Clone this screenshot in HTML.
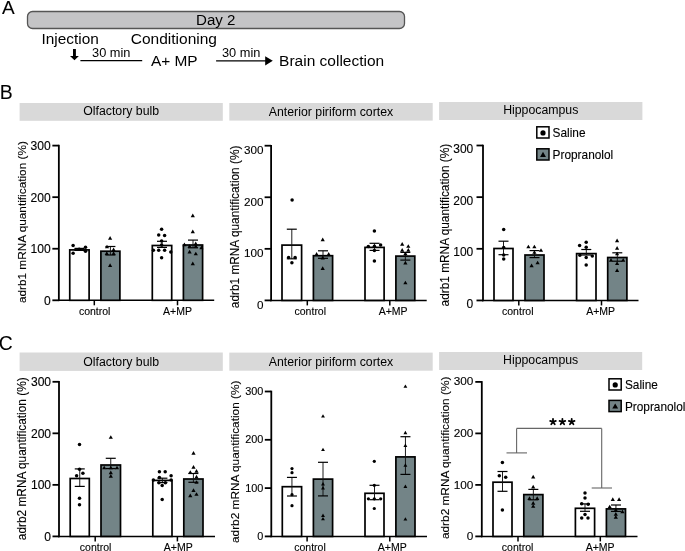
<!DOCTYPE html>
<html><head><meta charset="utf-8"><style>
html,body{margin:0;padding:0;background:#fff;width:685px;height:551px;overflow:hidden}
svg{display:block;will-change:transform}
text{font-family:"Liberation Sans", sans-serif;fill:#000;stroke:#000;stroke-width:0.12px}
</style></head><body>
<svg width="685" height="551" viewBox="0 0 685 551">
<text x="2.1" y="13.6" font-size="19" text-anchor="start" style="stroke-width:0.1">A</text>
<rect x="27.5" y="11.5" width="377" height="17" fill="#c4c4c6" stroke="#555" stroke-width="1.3" rx="5"/>
<text x="215.8" y="24.7" font-size="15.1" text-anchor="middle" style="stroke-width:0">Day 2</text>
<text x="41.5" y="44.1" font-size="15.4" text-anchor="start" style="stroke-width:0">Injection</text>
<text x="130.8" y="44.3" font-size="15.5" text-anchor="start" style="stroke-width:0">Conditioning</text>
<path d="M73.0 49.0 L75.9 49.0 L75.9 55.9 L78.9 55.9 L74.45 60.3 L70.0 55.9 L73.0 55.9 Z" fill="#000"/>
<line x1="80.4" y1="60.6" x2="142.2" y2="60.6" stroke="#000" stroke-width="1.2"/>
<text x="111.3" y="57.3" font-size="12.8" text-anchor="middle" style="stroke-width:0">30 min</text>
<text x="150.9" y="66.1" font-size="15.45" text-anchor="start" style="stroke-width:0">A+ MP</text>
<line x1="216.1" y1="60.8" x2="266" y2="60.8" stroke="#000" stroke-width="1.3"/>
<path d="M265.2 56.2 L272.8 60.8 L265.2 65.4 Z" fill="#000"/>
<text x="241.2" y="57.3" font-size="12.8" text-anchor="middle" style="stroke-width:0">30 min</text>
<text x="279.1" y="65.8" font-size="15.5" text-anchor="start" style="stroke-width:0">Brain collection</text>
<rect x="19.6" y="103" width="203.20000000000002" height="17.799999999999997" fill="#d9d9d9" stroke="none" stroke-width="0" rx="0"/>
<text x="121.2" y="115.2" font-size="12.3" text-anchor="middle" style="stroke-width:0">Olfactory bulb</text>
<rect x="229.3" y="103" width="203.39999999999998" height="17.599999999999994" fill="#d9d9d9" stroke="none" stroke-width="0" rx="0"/>
<text x="331.0" y="115.9" font-size="12.3" text-anchor="middle" style="stroke-width:0">Anterior piriform cortex</text>
<rect x="439.1" y="102" width="203.29999999999995" height="18" fill="#d9d9d9" stroke="none" stroke-width="0" rx="0"/>
<text x="540.75" y="114.1" font-size="12.3" text-anchor="middle" style="stroke-width:0">Hippocampus</text>
<rect x="19.6" y="352.5" width="203.20000000000002" height="18.399999999999977" fill="#d9d9d9" stroke="none" stroke-width="0" rx="0"/>
<text x="121.2" y="365.7" font-size="12.3" text-anchor="middle" style="stroke-width:0">Olfactory bulb</text>
<rect x="229.3" y="352.6" width="203.39999999999998" height="18.099999999999966" fill="#d9d9d9" stroke="none" stroke-width="0" rx="0"/>
<text x="331.0" y="366.1" font-size="12.3" text-anchor="middle" style="stroke-width:0">Anterior piriform cortex</text>
<rect x="439.1" y="352" width="203.10000000000002" height="18" fill="#d9d9d9" stroke="none" stroke-width="0" rx="0"/>
<text x="540.6500000000001" y="363.9" font-size="12.3" text-anchor="middle" style="stroke-width:0">Hippocampus</text>
<text x="-0.3" y="98.8" font-size="19.4" text-anchor="start" style="stroke-width:0.05">B</text>
<text x="-1.3" y="349.9" font-size="19.4" text-anchor="start" style="stroke-width:0">C</text>
<line x1="58.85" y1="144.79999999999998" x2="58.85" y2="301.1" stroke="#000" stroke-width="1.8"/>
<line x1="57.95" y1="300.3" x2="214.2" y2="300.3" stroke="#000" stroke-width="1.55"/>
<line x1="52.35" y1="300.3" x2="58.85" y2="300.3" stroke="#000" stroke-width="1.8"/>
<text x="50.7" y="304.9" font-size="12.1" text-anchor="end">0</text>
<line x1="52.35" y1="248.73333333333335" x2="58.85" y2="248.73333333333335" stroke="#000" stroke-width="1.8"/>
<text x="50.7" y="252.9" font-size="12.1" text-anchor="end">100</text>
<line x1="52.35" y1="197.16666666666669" x2="58.85" y2="197.16666666666669" stroke="#000" stroke-width="1.8"/>
<text x="50.7" y="201.7" font-size="12.1" text-anchor="end">200</text>
<line x1="52.35" y1="145.6" x2="58.85" y2="145.6" stroke="#000" stroke-width="1.8"/>
<text x="50.7" y="149.7" font-size="12.1" text-anchor="end">300</text>
<text transform="translate(26.3,222.15) rotate(-90)" font-size="11.81" text-anchor="middle">adrb1 mRNA quantification (%)</text>
<rect x="69.75" y="249.9" width="19.349999999999994" height="50.400000000000006" fill="#fff" stroke="#000" stroke-width="1.7" rx="0"/>
<rect x="100.9" y="251.2" width="19.0" height="49.10000000000002" fill="#738487" stroke="#000" stroke-width="1.7" rx="0"/>
<rect x="152.3" y="245.5" width="19.399999999999977" height="54.80000000000001" fill="#fff" stroke="#000" stroke-width="1.7" rx="0"/>
<rect x="183.4" y="245.0" width="19.19999999999999" height="55.30000000000001" fill="#738487" stroke="#000" stroke-width="1.7" rx="0"/>
<line x1="79.425" y1="248.4" x2="79.425" y2="250.4" stroke="#111" stroke-width="0.95"/>
<line x1="74.425" y1="248.4" x2="84.425" y2="248.4" stroke="#000" stroke-width="1.2"/>
<line x1="74.425" y1="250.4" x2="84.425" y2="250.4" stroke="#000" stroke-width="1.2"/>
<circle cx="73.1" cy="245.4" r="1.75" fill="#000"/>
<circle cx="73.1" cy="253.2" r="1.75" fill="#000"/>
<circle cx="79.2" cy="249.3" r="1.75" fill="#000"/>
<circle cx="85.5" cy="247.3" r="1.75" fill="#000"/>
<circle cx="85.5" cy="251.3" r="1.75" fill="#000"/>
<line x1="110.4" y1="246.5" x2="110.4" y2="255.0" stroke="#111" stroke-width="0.95"/>
<line x1="105.4" y1="246.5" x2="115.4" y2="246.5" stroke="#000" stroke-width="1.2"/>
<line x1="105.4" y1="255.0" x2="115.4" y2="255.0" stroke="#000" stroke-width="1.2"/>
<path d="M108.00 239.73L112.20 239.73L110.10 236.07Z" fill="#000"/>
<path d="M104.90 248.33L109.10 248.33L107.00 244.67Z" fill="#000"/>
<path d="M111.50 251.13L115.70 251.13L113.60 247.47Z" fill="#000"/>
<path d="M104.70 255.03L108.90 255.03L106.80 251.37Z" fill="#000"/>
<path d="M111.50 255.03L115.70 255.03L113.60 251.37Z" fill="#000"/>
<path d="M108.00 266.93L112.20 266.93L110.10 263.27Z" fill="#000"/>
<line x1="162.0" y1="241.3" x2="162.0" y2="247.4" stroke="#111" stroke-width="0.95"/>
<line x1="157.0" y1="241.3" x2="167.0" y2="241.3" stroke="#000" stroke-width="1.2"/>
<line x1="157.0" y1="247.4" x2="167.0" y2="247.4" stroke="#000" stroke-width="1.2"/>
<circle cx="161.6" cy="245.0" r="1.75" fill="#000"/>
<circle cx="161.6" cy="229.2" r="1.75" fill="#000"/>
<circle cx="158.7" cy="235" r="1.75" fill="#000"/>
<circle cx="164.6" cy="235.5" r="1.75" fill="#000"/>
<circle cx="161.6" cy="241" r="1.75" fill="#000"/>
<circle cx="158.7" cy="250.3" r="1.75" fill="#000"/>
<circle cx="164.6" cy="250.3" r="1.75" fill="#000"/>
<circle cx="153.4" cy="250.3" r="1.75" fill="#000"/>
<circle cx="170.8" cy="251.9" r="1.75" fill="#000"/>
<circle cx="161.6" cy="257.8" r="1.75" fill="#000"/>
<line x1="193.0" y1="240.1" x2="193.0" y2="247.8" stroke="#111" stroke-width="0.95"/>
<line x1="188.0" y1="240.1" x2="198.0" y2="240.1" stroke="#000" stroke-width="1.2"/>
<line x1="188.0" y1="247.8" x2="198.0" y2="247.8" stroke="#000" stroke-width="1.2"/>
<path d="M199.30 249.13L203.50 249.13L201.40 245.47Z" fill="#000"/>
<path d="M193.60 245.23L197.80 245.23L195.70 241.57Z" fill="#000"/>
<path d="M190.70 217.13L194.90 217.13L192.80 213.47Z" fill="#000"/>
<path d="M190.70 233.13L194.90 233.13L192.80 229.47Z" fill="#000"/>
<path d="M190.70 265.23L194.90 265.23L192.80 261.57Z" fill="#000"/>
<path d="M187.50 253.53L191.70 253.53L189.60 249.87Z" fill="#000"/>
<path d="M193.70 255.33L197.90 255.33L195.80 251.67Z" fill="#000"/>
<path d="M187.50 247.83L191.70 247.83L189.60 244.17Z" fill="#000"/>
<path d="M193.70 247.83L197.90 247.83L195.80 244.17Z" fill="#000"/>
<path d="M182.30 246.13L186.50 246.13L184.40 242.47Z" fill="#000"/>
<line x1="94.3" y1="300.3" x2="94.3" y2="305.3" stroke="#000" stroke-width="1.5"/>
<text x="94.7" y="314.6" font-size="10.5" text-anchor="middle">control</text>
<line x1="177.5" y1="300.3" x2="177.5" y2="305.3" stroke="#000" stroke-width="1.5"/>
<text x="177.5" y="314.6" font-size="10.5" text-anchor="middle">A+MP</text>
<line x1="271.1" y1="144.89999999999998" x2="271.1" y2="301.2" stroke="#000" stroke-width="1.8"/>
<line x1="270.20000000000005" y1="300.4" x2="426.7" y2="300.4" stroke="#000" stroke-width="1.55"/>
<line x1="264.6" y1="300.4" x2="271.1" y2="300.4" stroke="#000" stroke-width="1.8"/>
<text x="263.4" y="309.3" font-size="11.7" text-anchor="end">0</text>
<line x1="264.6" y1="248.83333333333331" x2="271.1" y2="248.83333333333331" stroke="#000" stroke-width="1.8"/>
<text x="263.4" y="257.3" font-size="11.7" text-anchor="end">100</text>
<line x1="264.6" y1="197.26666666666665" x2="271.1" y2="197.26666666666665" stroke="#000" stroke-width="1.8"/>
<text x="263.4" y="205.9" font-size="11.7" text-anchor="end">200</text>
<line x1="264.6" y1="145.7" x2="271.1" y2="145.7" stroke="#000" stroke-width="1.8"/>
<text x="263.4" y="153.6" font-size="11.7" text-anchor="end">300</text>
<text transform="translate(238.8,226.90) rotate(-90)" font-size="11.85" text-anchor="middle">adrb1 mRNA quantification (%)</text>
<rect x="282.0" y="245.1" width="19.600000000000023" height="55.29999999999998" fill="#fff" stroke="#000" stroke-width="1.7" rx="0"/>
<rect x="313.4" y="255.7" width="19.200000000000045" height="44.69999999999999" fill="#738487" stroke="#000" stroke-width="1.7" rx="0"/>
<rect x="365.0" y="247.4" width="19.100000000000023" height="52.99999999999997" fill="#fff" stroke="#000" stroke-width="1.7" rx="0"/>
<rect x="395.9" y="256.1" width="18.900000000000034" height="44.299999999999955" fill="#738487" stroke="#000" stroke-width="1.7" rx="0"/>
<line x1="291.8" y1="229.2" x2="291.8" y2="258.8" stroke="#111" stroke-width="0.95"/>
<line x1="286.8" y1="229.2" x2="296.8" y2="229.2" stroke="#000" stroke-width="1.2"/>
<line x1="286.8" y1="258.8" x2="296.8" y2="258.8" stroke="#000" stroke-width="1.2"/>
<circle cx="292.1" cy="199.9" r="1.75" fill="#000"/>
<circle cx="288.6" cy="257.5" r="1.75" fill="#000"/>
<circle cx="295.1" cy="257.5" r="1.75" fill="#000"/>
<circle cx="291.9" cy="262.7" r="1.75" fill="#000"/>
<line x1="323.0" y1="250.8" x2="323.0" y2="258.3" stroke="#111" stroke-width="0.95"/>
<line x1="318.0" y1="250.8" x2="328.0" y2="250.8" stroke="#000" stroke-width="1.2"/>
<line x1="318.0" y1="258.3" x2="328.0" y2="258.3" stroke="#000" stroke-width="1.2"/>
<path d="M320.60 241.23L324.80 241.23L322.70 237.57Z" fill="#000"/>
<path d="M320.60 269.93L324.80 269.93L322.70 266.27Z" fill="#000"/>
<path d="M314.50 255.73L318.70 255.73L316.60 252.07Z" fill="#000"/>
<path d="M326.60 255.73L330.80 255.73L328.70 252.07Z" fill="#000"/>
<path d="M320.60 259.43L324.80 259.43L322.70 255.77Z" fill="#000"/>
<line x1="374.55" y1="243.3" x2="374.55" y2="250.4" stroke="#111" stroke-width="0.95"/>
<line x1="369.55" y1="243.3" x2="379.55" y2="243.3" stroke="#000" stroke-width="1.2"/>
<line x1="369.55" y1="250.4" x2="379.55" y2="250.4" stroke="#000" stroke-width="1.2"/>
<circle cx="374.4" cy="231.1" r="1.75" fill="#000"/>
<circle cx="374.4" cy="261.0" r="1.75" fill="#000"/>
<circle cx="368.3" cy="246.6" r="1.75" fill="#000"/>
<circle cx="374.4" cy="246.2" r="1.75" fill="#000"/>
<circle cx="380.6" cy="245.0" r="1.75" fill="#000"/>
<circle cx="374.4" cy="250.4" r="1.75" fill="#000"/>
<line x1="405.35" y1="252.4" x2="405.35" y2="260.1" stroke="#111" stroke-width="0.95"/>
<line x1="400.35" y1="252.4" x2="410.35" y2="252.4" stroke="#000" stroke-width="1.2"/>
<line x1="400.35" y1="260.1" x2="410.35" y2="260.1" stroke="#000" stroke-width="1.2"/>
<path d="M400.10 245.73L404.30 245.73L402.20 242.07Z" fill="#000"/>
<path d="M406.20 247.83L410.40 247.83L408.30 244.17Z" fill="#000"/>
<path d="M400.10 251.63L404.30 251.63L402.20 247.97Z" fill="#000"/>
<path d="M406.20 251.63L410.40 251.63L408.30 247.97Z" fill="#000"/>
<path d="M403.30 255.13L407.50 255.13L405.40 251.47Z" fill="#000"/>
<path d="M403.30 264.53L407.50 264.53L405.40 260.87Z" fill="#000"/>
<path d="M403.30 284.33L407.50 284.33L405.40 280.67Z" fill="#000"/>
<line x1="307.3" y1="300.4" x2="307.3" y2="305.4" stroke="#000" stroke-width="1.5"/>
<text x="310.3" y="314.6" font-size="10.5" text-anchor="middle">control</text>
<line x1="389.8" y1="300.4" x2="389.8" y2="305.4" stroke="#000" stroke-width="1.5"/>
<text x="393.1" y="314.6" font-size="10.5" text-anchor="middle">A+MP</text>
<line x1="483.0" y1="144.7" x2="483.0" y2="301.25" stroke="#000" stroke-width="1.8"/>
<line x1="482.1" y1="300.45" x2="638.5" y2="300.45" stroke="#000" stroke-width="1.55"/>
<line x1="476.5" y1="300.45" x2="483.0" y2="300.45" stroke="#000" stroke-width="1.8"/>
<text x="473.3" y="307.7" font-size="12.0" text-anchor="end">0</text>
<line x1="476.5" y1="248.79999999999998" x2="483.0" y2="248.79999999999998" stroke="#000" stroke-width="1.8"/>
<text x="473.3" y="255.9" font-size="12.0" text-anchor="end">100</text>
<line x1="476.5" y1="197.14999999999998" x2="483.0" y2="197.14999999999998" stroke="#000" stroke-width="1.8"/>
<text x="473.3" y="204.7" font-size="12.0" text-anchor="end">200</text>
<line x1="476.5" y1="145.5" x2="483.0" y2="145.5" stroke="#000" stroke-width="1.8"/>
<text x="473.3" y="152.7" font-size="12.0" text-anchor="end">300</text>
<text transform="translate(448.8,225.10) rotate(-90)" font-size="11.85" text-anchor="middle">adrb1 mRNA quantification (%)</text>
<rect x="494.0" y="248.5" width="19.0" height="51.94999999999999" fill="#fff" stroke="#000" stroke-width="1.7" rx="0"/>
<rect x="525.0" y="255.0" width="19.0" height="45.44999999999999" fill="#738487" stroke="#000" stroke-width="1.7" rx="0"/>
<rect x="576.6" y="253.6" width="19.399999999999977" height="46.849999999999994" fill="#fff" stroke="#000" stroke-width="1.7" rx="0"/>
<rect x="607.7" y="257.5" width="19.199999999999932" height="42.94999999999999" fill="#738487" stroke="#000" stroke-width="1.7" rx="0"/>
<line x1="503.5" y1="241.2" x2="503.5" y2="254.7" stroke="#111" stroke-width="0.95"/>
<line x1="498.5" y1="241.2" x2="508.5" y2="241.2" stroke="#000" stroke-width="1.2"/>
<line x1="498.5" y1="254.7" x2="508.5" y2="254.7" stroke="#000" stroke-width="1.2"/>
<circle cx="503.7" cy="229.4" r="1.75" fill="#000"/>
<circle cx="503.7" cy="247.6" r="1.75" fill="#000"/>
<circle cx="503.7" cy="255.0" r="1.75" fill="#000"/>
<circle cx="503.7" cy="259.0" r="1.75" fill="#000"/>
<line x1="534.5" y1="250.6" x2="534.5" y2="257.6" stroke="#111" stroke-width="0.95"/>
<line x1="529.5" y1="250.6" x2="539.5" y2="250.6" stroke="#000" stroke-width="1.2"/>
<line x1="529.5" y1="257.6" x2="539.5" y2="257.6" stroke="#000" stroke-width="1.2"/>
<path d="M526.30 248.33L530.50 248.33L528.40 244.67Z" fill="#000"/>
<path d="M532.30 248.33L536.50 248.33L534.40 244.67Z" fill="#000"/>
<path d="M538.90 251.83L543.10 251.83L541.00 248.17Z" fill="#000"/>
<path d="M532.30 253.83L536.50 253.83L534.40 250.17Z" fill="#000"/>
<path d="M529.50 267.13L533.70 267.13L531.60 263.47Z" fill="#000"/>
<path d="M535.50 264.33L539.70 264.33L537.60 260.67Z" fill="#000"/>
<line x1="586.3" y1="249.5" x2="586.3" y2="255.0" stroke="#111" stroke-width="0.95"/>
<line x1="581.3" y1="249.5" x2="591.3" y2="249.5" stroke="#000" stroke-width="1.2"/>
<line x1="581.3" y1="255.0" x2="591.3" y2="255.0" stroke="#000" stroke-width="1.2"/>
<circle cx="586.2" cy="242.3" r="1.75" fill="#000"/>
<circle cx="579.6" cy="245.6" r="1.75" fill="#000"/>
<circle cx="586.2" cy="247.3" r="1.75" fill="#000"/>
<circle cx="579.9" cy="255.2" r="1.75" fill="#000"/>
<circle cx="586.2" cy="257.4" r="1.75" fill="#000"/>
<circle cx="592.3" cy="256.1" r="1.75" fill="#000"/>
<circle cx="586.2" cy="265.1" r="1.75" fill="#000"/>
<line x1="617.3" y1="252.8" x2="617.3" y2="261.2" stroke="#111" stroke-width="0.95"/>
<line x1="612.3" y1="252.8" x2="622.3" y2="252.8" stroke="#000" stroke-width="1.2"/>
<line x1="612.3" y1="261.2" x2="622.3" y2="261.2" stroke="#000" stroke-width="1.2"/>
<path d="M615.00 242.13L619.20 242.13L617.10 238.47Z" fill="#000"/>
<path d="M615.00 249.63L619.20 249.63L617.10 245.97Z" fill="#000"/>
<path d="M615.00 255.33L619.20 255.33L617.10 251.67Z" fill="#000"/>
<path d="M608.90 261.63L613.10 261.63L611.00 257.97Z" fill="#000"/>
<path d="M621.10 261.63L625.30 261.63L623.20 257.97Z" fill="#000"/>
<path d="M615.00 264.93L619.20 264.93L617.10 261.27Z" fill="#000"/>
<path d="M615.00 271.93L619.20 271.93L617.10 268.27Z" fill="#000"/>
<line x1="518.8" y1="300.45" x2="518.8" y2="305.45" stroke="#000" stroke-width="1.5"/>
<text x="517.8" y="314.8" font-size="10.5" text-anchor="middle">control</text>
<line x1="601.5" y1="300.45" x2="601.5" y2="305.45" stroke="#000" stroke-width="1.5"/>
<text x="600.6" y="314.8" font-size="10.5" text-anchor="middle">A+MP</text>
<line x1="59.0" y1="381.0" x2="59.0" y2="537.1999999999999" stroke="#000" stroke-width="1.8"/>
<line x1="58.1" y1="536.4" x2="215.0" y2="536.4" stroke="#000" stroke-width="1.55"/>
<line x1="52.5" y1="536.4" x2="59.0" y2="536.4" stroke="#000" stroke-width="1.8"/>
<text x="51.1" y="541.1" font-size="12.1" text-anchor="end">0</text>
<line x1="52.5" y1="484.8666666666667" x2="59.0" y2="484.8666666666667" stroke="#000" stroke-width="1.8"/>
<text x="51.1" y="489.0" font-size="12.1" text-anchor="end">100</text>
<line x1="52.5" y1="433.33333333333337" x2="59.0" y2="433.33333333333337" stroke="#000" stroke-width="1.8"/>
<text x="51.1" y="437.9" font-size="12.1" text-anchor="end">200</text>
<line x1="52.5" y1="381.8" x2="59.0" y2="381.8" stroke="#000" stroke-width="1.8"/>
<text x="51.1" y="385.7" font-size="12.1" text-anchor="end">300</text>
<text transform="translate(26.4,458.75) rotate(-90)" font-size="11.86" text-anchor="middle">adrb2 mRNA quantification (%)</text>
<rect x="70.2" y="478.5" width="19.099999999999994" height="57.89999999999998" fill="#fff" stroke="#000" stroke-width="1.7" rx="0"/>
<rect x="101.0" y="465.0" width="19.5" height="71.39999999999998" fill="#738487" stroke="#000" stroke-width="1.7" rx="0"/>
<rect x="152.8" y="480.4" width="19.19999999999999" height="56.0" fill="#fff" stroke="#000" stroke-width="1.7" rx="0"/>
<rect x="183.8" y="479.0" width="19.19999999999999" height="57.39999999999998" fill="#738487" stroke="#000" stroke-width="1.7" rx="0"/>
<line x1="79.75" y1="468.9" x2="79.75" y2="486.4" stroke="#111" stroke-width="0.95"/>
<line x1="74.75" y1="468.9" x2="84.75" y2="468.9" stroke="#000" stroke-width="1.2"/>
<line x1="74.75" y1="486.4" x2="84.75" y2="486.4" stroke="#000" stroke-width="1.2"/>
<circle cx="79.5" cy="444.5" r="1.75" fill="#000"/>
<circle cx="79.5" cy="469.2" r="1.75" fill="#000"/>
<circle cx="76.6" cy="475.8" r="1.75" fill="#000"/>
<circle cx="82.9" cy="473.3" r="1.75" fill="#000"/>
<circle cx="79.5" cy="498.3" r="1.75" fill="#000"/>
<circle cx="79.5" cy="504.8" r="1.75" fill="#000"/>
<line x1="110.75" y1="458.3" x2="110.75" y2="468.6" stroke="#111" stroke-width="0.95"/>
<line x1="105.75" y1="458.3" x2="115.75" y2="458.3" stroke="#000" stroke-width="1.2"/>
<line x1="105.75" y1="468.6" x2="115.75" y2="468.6" stroke="#000" stroke-width="1.2"/>
<path d="M108.70 438.83L112.90 438.83L110.80 435.17Z" fill="#000"/>
<path d="M102.10 469.33L106.30 469.33L104.20 465.67Z" fill="#000"/>
<path d="M108.70 469.33L112.90 469.33L110.80 465.67Z" fill="#000"/>
<path d="M114.90 469.33L119.10 469.33L117.00 465.67Z" fill="#000"/>
<path d="M108.70 474.23L112.90 474.23L110.80 470.57Z" fill="#000"/>
<path d="M108.70 477.63L112.90 477.63L110.80 473.97Z" fill="#000"/>
<line x1="162.4" y1="478.2" x2="162.4" y2="482.6" stroke="#111" stroke-width="0.95"/>
<line x1="157.4" y1="478.2" x2="167.4" y2="478.2" stroke="#000" stroke-width="1.2"/>
<line x1="157.4" y1="482.6" x2="167.4" y2="482.6" stroke="#000" stroke-width="1.2"/>
<circle cx="159.4" cy="471.7" r="1.75" fill="#000"/>
<circle cx="165.2" cy="471.7" r="1.75" fill="#000"/>
<circle cx="171.1" cy="475.8" r="1.75" fill="#000"/>
<circle cx="159.4" cy="477.5" r="1.75" fill="#000"/>
<circle cx="153.4" cy="480.1" r="1.75" fill="#000"/>
<circle cx="171.1" cy="479.9" r="1.75" fill="#000"/>
<circle cx="158.9" cy="482.8" r="1.75" fill="#000"/>
<circle cx="165.4" cy="482.8" r="1.75" fill="#000"/>
<circle cx="162.2" cy="485.5" r="1.75" fill="#000"/>
<circle cx="162.2" cy="499.5" r="1.75" fill="#000"/>
<line x1="193.4" y1="473.5" x2="193.4" y2="482.3" stroke="#111" stroke-width="0.95"/>
<line x1="188.4" y1="473.5" x2="198.4" y2="473.5" stroke="#000" stroke-width="1.2"/>
<line x1="188.4" y1="482.3" x2="198.4" y2="482.3" stroke="#000" stroke-width="1.2"/>
<path d="M191.40 454.63L195.60 454.63L193.50 450.97Z" fill="#000"/>
<path d="M191.40 468.63L195.60 468.63L193.50 464.97Z" fill="#000"/>
<path d="M188.20 473.83L192.40 473.83L190.30 470.17Z" fill="#000"/>
<path d="M194.40 472.73L198.60 472.73L196.50 469.07Z" fill="#000"/>
<path d="M194.40 478.43L198.60 478.43L196.50 474.77Z" fill="#000"/>
<path d="M194.40 483.83L198.60 483.83L196.50 480.17Z" fill="#000"/>
<path d="M191.40 492.03L195.60 492.03L193.50 488.37Z" fill="#000"/>
<path d="M188.20 497.13L192.40 497.13L190.30 493.47Z" fill="#000"/>
<path d="M194.40 495.83L198.60 495.83L196.50 492.17Z" fill="#000"/>
<line x1="95.2" y1="536.4" x2="95.2" y2="541.4" stroke="#000" stroke-width="1.5"/>
<text x="95.6" y="551.2" font-size="10.5" text-anchor="middle">control</text>
<line x1="177.4" y1="536.4" x2="177.4" y2="541.4" stroke="#000" stroke-width="1.5"/>
<text x="178.2" y="551.2" font-size="10.5" text-anchor="middle">A+MP</text>
<line x1="271.3" y1="390.7" x2="271.3" y2="537.1999999999999" stroke="#000" stroke-width="1.8"/>
<line x1="270.40000000000003" y1="536.4" x2="427.0" y2="536.4" stroke="#000" stroke-width="1.55"/>
<line x1="264.8" y1="536.4" x2="271.3" y2="536.4" stroke="#000" stroke-width="1.8"/>
<text x="263.4" y="539.8" font-size="10.9" text-anchor="end">0</text>
<line x1="264.8" y1="488.09999999999997" x2="271.3" y2="488.09999999999997" stroke="#000" stroke-width="1.8"/>
<text x="263.4" y="491.8" font-size="10.9" text-anchor="end">100</text>
<line x1="264.8" y1="439.8" x2="271.3" y2="439.8" stroke="#000" stroke-width="1.8"/>
<text x="263.4" y="442.8" font-size="10.9" text-anchor="end">200</text>
<line x1="264.8" y1="391.5" x2="271.3" y2="391.5" stroke="#000" stroke-width="1.8"/>
<text x="263.4" y="394.7" font-size="10.9" text-anchor="end">300</text>
<text transform="translate(238.8,461.80) rotate(-90)" font-size="11.84" text-anchor="middle">adrb2 mRNA quantification (%)</text>
<rect x="282.3" y="486.7" width="19.30000000000001" height="49.69999999999999" fill="#fff" stroke="#000" stroke-width="1.7" rx="0"/>
<rect x="313.4" y="479.1" width="19.200000000000045" height="57.299999999999955" fill="#738487" stroke="#000" stroke-width="1.7" rx="0"/>
<rect x="365.0" y="493.3" width="19.0" height="43.099999999999966" fill="#fff" stroke="#000" stroke-width="1.7" rx="0"/>
<rect x="395.9" y="456.9" width="19.100000000000023" height="79.5" fill="#738487" stroke="#000" stroke-width="1.7" rx="0"/>
<line x1="291.95000000000005" y1="477.4" x2="291.95000000000005" y2="496.0" stroke="#111" stroke-width="0.95"/>
<line x1="286.95000000000005" y1="477.4" x2="296.95000000000005" y2="477.4" stroke="#000" stroke-width="1.2"/>
<line x1="286.95000000000005" y1="496.0" x2="296.95000000000005" y2="496.0" stroke="#000" stroke-width="1.2"/>
<circle cx="292" cy="468.6" r="1.61" fill="#000"/>
<circle cx="292" cy="472.7" r="1.61" fill="#000"/>
<circle cx="292" cy="494.7" r="1.61" fill="#000"/>
<circle cx="292" cy="505.7" r="1.61" fill="#000"/>
<line x1="323.0" y1="462.3" x2="323.0" y2="495.9" stroke="#111" stroke-width="0.95"/>
<line x1="318.0" y1="462.3" x2="328.0" y2="462.3" stroke="#000" stroke-width="1.2"/>
<line x1="318.0" y1="495.9" x2="328.0" y2="495.9" stroke="#000" stroke-width="1.2"/>
<path d="M321.07 417.58L324.93 417.58L323.00 414.22Z" fill="#000"/>
<path d="M321.07 451.08L324.93 451.08L323.00 447.72Z" fill="#000"/>
<path d="M321.07 485.38L324.93 485.38L323.00 482.02Z" fill="#000"/>
<path d="M321.07 489.48L324.93 489.48L323.00 486.12Z" fill="#000"/>
<path d="M321.07 516.98L324.93 516.98L323.00 513.62Z" fill="#000"/>
<path d="M321.07 520.28L324.93 520.28L323.00 516.92Z" fill="#000"/>
<line x1="374.5" y1="485.3" x2="374.5" y2="499.7" stroke="#111" stroke-width="0.95"/>
<line x1="369.5" y1="485.3" x2="379.5" y2="485.3" stroke="#000" stroke-width="1.2"/>
<line x1="369.5" y1="499.7" x2="379.5" y2="499.7" stroke="#000" stroke-width="1.2"/>
<circle cx="374.3" cy="461.3" r="1.61" fill="#000"/>
<circle cx="374.3" cy="485.3" r="1.61" fill="#000"/>
<circle cx="368.4" cy="498.8" r="1.61" fill="#000"/>
<circle cx="374.3" cy="498.8" r="1.61" fill="#000"/>
<circle cx="380.7" cy="498.8" r="1.61" fill="#000"/>
<circle cx="374.3" cy="508.5" r="1.61" fill="#000"/>
<line x1="405.45" y1="436.7" x2="405.45" y2="474.4" stroke="#111" stroke-width="0.95"/>
<line x1="400.45" y1="436.7" x2="410.45" y2="436.7" stroke="#000" stroke-width="1.2"/>
<line x1="400.45" y1="474.4" x2="410.45" y2="474.4" stroke="#000" stroke-width="1.2"/>
<path d="M403.47 387.78L407.33 387.78L405.40 384.42Z" fill="#000"/>
<path d="M403.47 434.18L407.33 434.18L405.40 430.82Z" fill="#000"/>
<path d="M403.47 446.88L407.33 446.88L405.40 443.52Z" fill="#000"/>
<path d="M403.47 466.68L407.33 466.68L405.40 463.32Z" fill="#000"/>
<path d="M403.47 487.88L407.33 487.88L405.40 484.52Z" fill="#000"/>
<path d="M403.47 520.58L407.33 520.58L405.40 517.22Z" fill="#000"/>
<line x1="307.1" y1="536.4" x2="307.1" y2="541.4" stroke="#000" stroke-width="1.5"/>
<text x="310.0" y="551.2" font-size="10.5" text-anchor="middle">control</text>
<line x1="389.8" y1="536.4" x2="389.8" y2="541.4" stroke="#000" stroke-width="1.5"/>
<text x="392.3" y="551.2" font-size="10.5" text-anchor="middle">A+MP</text>
<line x1="481.8" y1="381.09999999999997" x2="481.8" y2="537.1999999999999" stroke="#000" stroke-width="1.8"/>
<line x1="480.90000000000003" y1="536.4" x2="637.5" y2="536.4" stroke="#000" stroke-width="1.55"/>
<line x1="475.3" y1="536.4" x2="481.8" y2="536.4" stroke="#000" stroke-width="1.8"/>
<text x="473.4" y="540.4" font-size="11.8" text-anchor="end">0</text>
<line x1="475.3" y1="484.9" x2="481.8" y2="484.9" stroke="#000" stroke-width="1.8"/>
<text x="473.4" y="488.6" font-size="11.8" text-anchor="end">100</text>
<line x1="475.3" y1="433.4" x2="481.8" y2="433.4" stroke="#000" stroke-width="1.8"/>
<text x="473.4" y="436.7" font-size="11.8" text-anchor="end">200</text>
<line x1="475.3" y1="381.9" x2="481.8" y2="381.9" stroke="#000" stroke-width="1.8"/>
<text x="473.4" y="384.8" font-size="11.8" text-anchor="end">300</text>
<text transform="translate(448.8,457.85) rotate(-90)" font-size="11.83" text-anchor="middle">adrb2 mRNA quantification (%)</text>
<rect x="493.0" y="482.2" width="19.0" height="54.19999999999999" fill="#fff" stroke="#000" stroke-width="1.7" rx="0"/>
<rect x="523.8" y="494.6" width="19.100000000000023" height="41.799999999999955" fill="#738487" stroke="#000" stroke-width="1.7" rx="0"/>
<rect x="575.4" y="508.3" width="19.200000000000045" height="28.099999999999966" fill="#fff" stroke="#000" stroke-width="1.7" rx="0"/>
<rect x="606.4" y="508.9" width="19.100000000000023" height="27.5" fill="#738487" stroke="#000" stroke-width="1.7" rx="0"/>
<line x1="502.5" y1="471.5" x2="502.5" y2="491.3" stroke="#111" stroke-width="0.95"/>
<line x1="497.5" y1="471.5" x2="507.5" y2="471.5" stroke="#000" stroke-width="1.2"/>
<line x1="497.5" y1="491.3" x2="507.5" y2="491.3" stroke="#000" stroke-width="1.2"/>
<circle cx="502.4" cy="462.5" r="1.75" fill="#000"/>
<circle cx="499.3" cy="475.7" r="1.75" fill="#000"/>
<circle cx="505.7" cy="477.2" r="1.75" fill="#000"/>
<circle cx="502.4" cy="510" r="1.75" fill="#000"/>
<line x1="533.3499999999999" y1="489.4" x2="533.3499999999999" y2="499.8" stroke="#111" stroke-width="0.95"/>
<line x1="528.3499999999999" y1="489.4" x2="538.3499999999999" y2="489.4" stroke="#000" stroke-width="1.2"/>
<line x1="528.3499999999999" y1="499.8" x2="538.3499999999999" y2="499.8" stroke="#000" stroke-width="1.2"/>
<path d="M531.10 478.43L535.30 478.43L533.20 474.77Z" fill="#000"/>
<path d="M531.10 488.53L535.30 488.53L533.20 484.87Z" fill="#000"/>
<path d="M527.40 499.93L531.60 499.93L529.50 496.27Z" fill="#000"/>
<path d="M535.10 499.93L539.30 499.93L537.20 496.27Z" fill="#000"/>
<path d="M531.10 504.63L535.30 504.63L533.20 500.97Z" fill="#000"/>
<path d="M531.10 507.83L535.30 507.83L533.20 504.17Z" fill="#000"/>
<line x1="585.0" y1="503.9" x2="585.0" y2="511.3" stroke="#111" stroke-width="0.95"/>
<line x1="580.0" y1="503.9" x2="590.0" y2="503.9" stroke="#000" stroke-width="1.2"/>
<line x1="580.0" y1="511.3" x2="590.0" y2="511.3" stroke="#000" stroke-width="1.2"/>
<circle cx="585" cy="493.1" r="1.75" fill="#000"/>
<circle cx="585" cy="498.1" r="1.75" fill="#000"/>
<circle cx="581.7" cy="503.7" r="1.75" fill="#000"/>
<circle cx="588.2" cy="504.3" r="1.75" fill="#000"/>
<circle cx="585" cy="514.4" r="1.75" fill="#000"/>
<circle cx="581.7" cy="518.1" r="1.75" fill="#000"/>
<circle cx="588" cy="518.1" r="1.75" fill="#000"/>
<line x1="615.95" y1="505.0" x2="615.95" y2="511.4" stroke="#111" stroke-width="0.95"/>
<line x1="610.95" y1="505.0" x2="620.95" y2="505.0" stroke="#000" stroke-width="1.2"/>
<line x1="610.95" y1="511.4" x2="620.95" y2="511.4" stroke="#000" stroke-width="1.2"/>
<path d="M610.70 500.93L614.90 500.93L612.80 497.27Z" fill="#000"/>
<path d="M617.00 500.93L621.20 500.93L619.10 497.27Z" fill="#000"/>
<path d="M607.60 508.33L611.80 508.33L609.70 504.67Z" fill="#000"/>
<path d="M613.70 511.43L617.90 511.43L615.80 507.77Z" fill="#000"/>
<path d="M620.30 513.13L624.50 513.13L622.40 509.47Z" fill="#000"/>
<path d="M613.70 515.73L617.90 515.73L615.80 512.07Z" fill="#000"/>
<path d="M613.70 518.63L617.90 518.63L615.80 514.97Z" fill="#000"/>
<line x1="518.0" y1="536.4" x2="518.0" y2="541.4" stroke="#000" stroke-width="1.5"/>
<text x="517.6" y="551.2" font-size="10.5" text-anchor="middle">control</text>
<line x1="600.3" y1="536.4" x2="600.3" y2="541.4" stroke="#000" stroke-width="1.5"/>
<text x="600.1" y="551.2" font-size="10.5" text-anchor="middle">A+MP</text>
<line x1="516.6" y1="428.4" x2="601.7" y2="428.4" stroke="#666" stroke-width="1.1"/>
<line x1="516.6" y1="428.4" x2="516.6" y2="452.9" stroke="#666" stroke-width="1.1"/>
<line x1="506.5" y1="452.9" x2="527.0" y2="452.9" stroke="#666" stroke-width="1.1"/>
<line x1="601.7" y1="428.4" x2="601.7" y2="488.0" stroke="#666" stroke-width="1.1"/>
<line x1="591.7" y1="488.0" x2="612.0" y2="488.0" stroke="#666" stroke-width="1.1"/>
<path d="M553.00 421.85L553.00 418.85M553.00 421.85L555.85 420.92M553.00 421.85L554.76 424.28M553.00 421.85L551.24 424.28M553.00 421.85L550.15 420.92" stroke="#000" stroke-width="1.75" stroke-linecap="round" fill="none"/>
<path d="M562.40 421.85L562.40 418.85M562.40 421.85L565.25 420.92M562.40 421.85L564.16 424.28M562.40 421.85L560.64 424.28M562.40 421.85L559.55 420.92" stroke="#000" stroke-width="1.75" stroke-linecap="round" fill="none"/>
<path d="M571.70 421.85L571.70 418.85M571.70 421.85L574.55 420.92M571.70 421.85L573.46 424.28M571.70 421.85L569.94 424.28M571.70 421.85L568.85 420.92" stroke="#000" stroke-width="1.75" stroke-linecap="round" fill="none"/>
<rect x="536.8000000000001" y="126.8" width="12.2" height="11.2" fill="#fff" stroke="#000" stroke-width="1.5" rx="0"/>
<circle cx="543.0" cy="132.9" r="2.6" fill="#000"/>
<text x="552.6" y="137.2" font-size="11.85" text-anchor="start">Saline</text>
<rect x="536.8000000000001" y="148.79999999999998" width="12.2" height="11.2" fill="#738487" stroke="#000" stroke-width="1.5" rx="0"/>
<path d="M540.05 156.97L545.95 156.97L543.00 151.83Z" fill="#000"/>
<text x="552.6" y="159.0" font-size="11.85" text-anchor="start">Propranolol</text>
<rect x="609.0" y="378.8" width="12.2" height="11.2" fill="#fff" stroke="#000" stroke-width="1.5" rx="0"/>
<circle cx="615.1999999999999" cy="384.90000000000003" r="2.6" fill="#000"/>
<text x="624.9" y="388.6" font-size="11.85" text-anchor="start">Saline</text>
<rect x="609.0" y="400.4" width="12.2" height="11.2" fill="#738487" stroke="#000" stroke-width="1.5" rx="0"/>
<path d="M612.25 408.57L618.15 408.57L615.20 403.43Z" fill="#000"/>
<text x="624.9" y="410.5" font-size="11.85" text-anchor="start">Propranolol</text>
</svg>
</body></html>
